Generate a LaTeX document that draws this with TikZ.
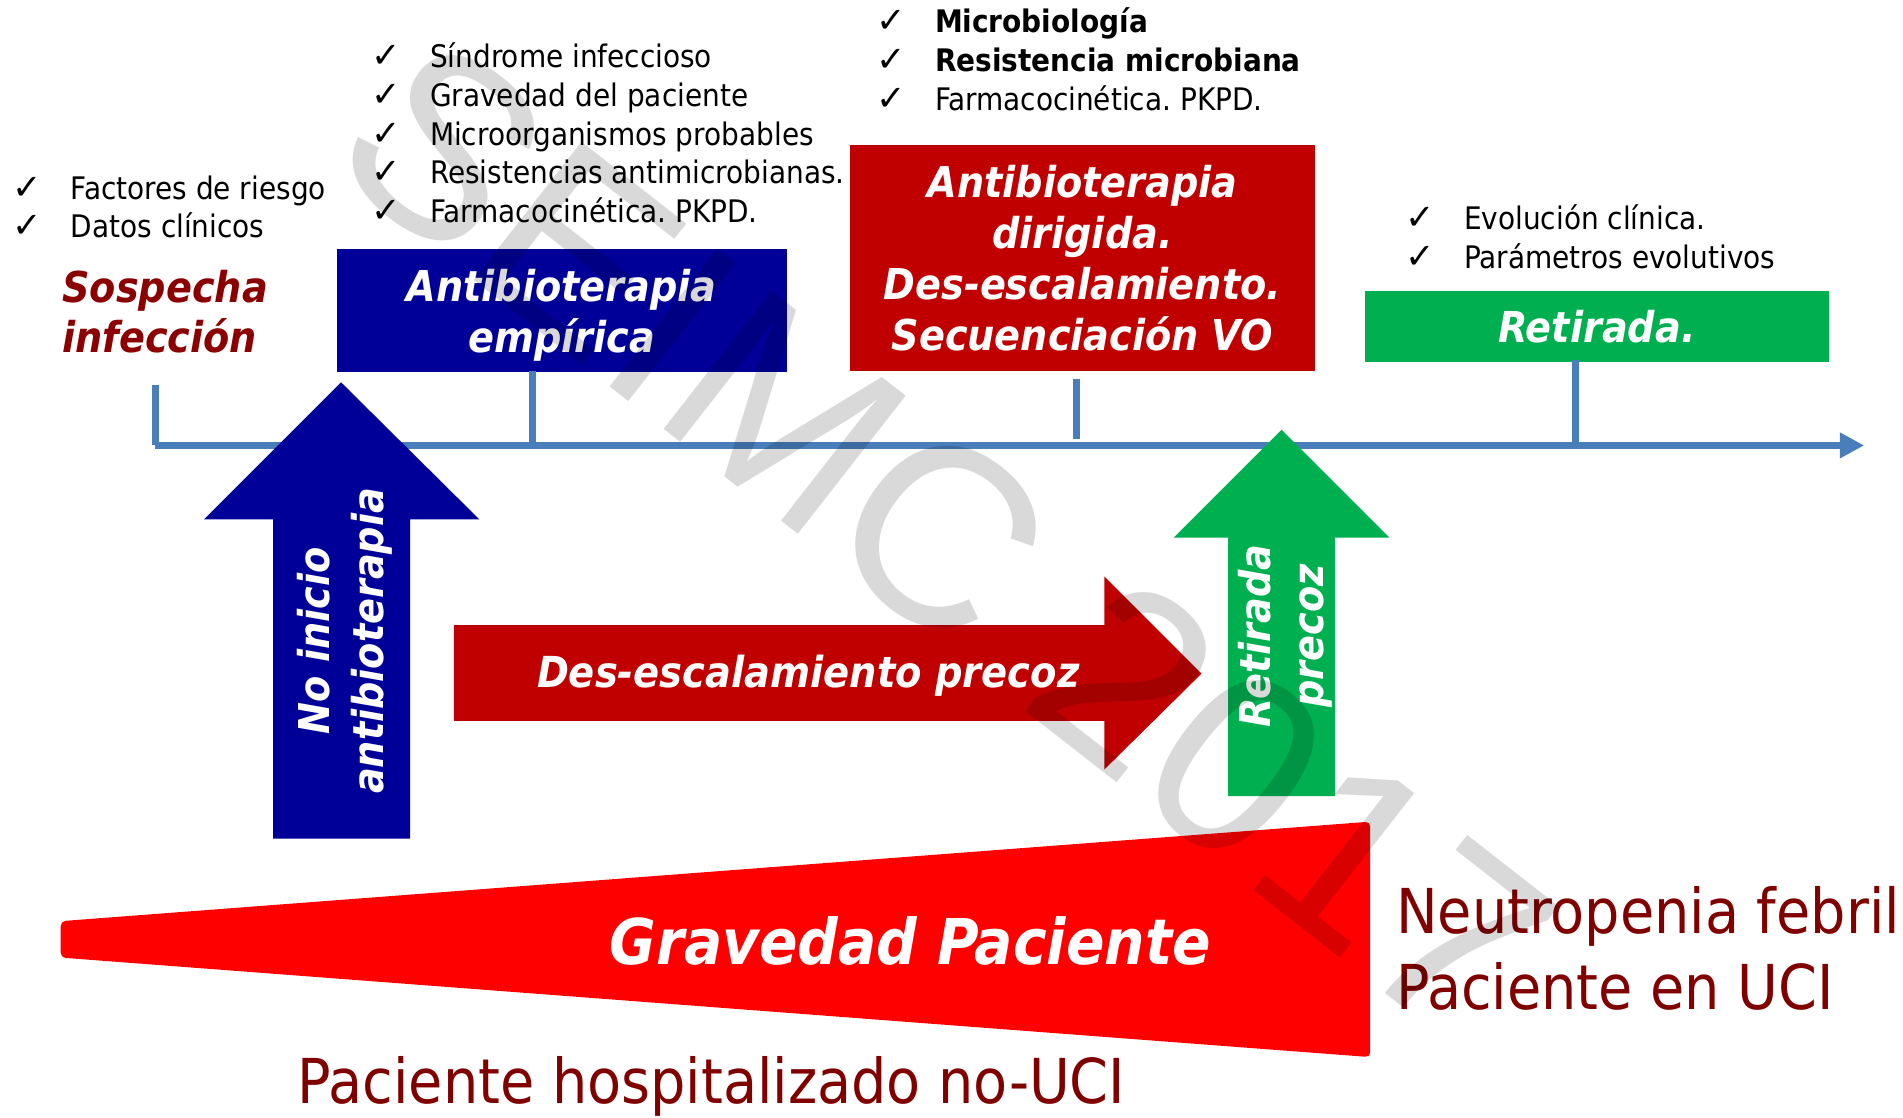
\documentclass[tikz,border=0pt]{standalone}
\usepackage{fontspec}
\setmainfont{DejaVu Sans Condensed}
\newfontfamily\symf{DejaVu Sans}
\newfontfamily\wmf{Liberation Sans}
\usetikzlibrary{arrows.meta}
\definecolor{axisblue}{HTML}{4A7EBB}
\definecolor{dkblue}{HTML}{000099}
\definecolor{boxred}{HTML}{C00000}
\definecolor{boxgreen}{HTML}{00B050}
\definecolor{maroonc}{HTML}{800000}
\definecolor{sospc}{HTML}{8B0000}
\definecolor{trapred}{HTML}{FF0000}
\newcommand{\ck}{\makebox[24pt][l]{\symf\fontsize{14.5pt}{15pt}\selectfont ✓}}
\frenchspacing
\begin{document}
\begin{tikzpicture}[x=0.5pt,y=-0.5pt,
  item/.style={anchor=base west, inner sep=0pt, font=\fontsize{12.8pt}{15pt}\selectfont},
  ttl/.style={text=white, align=center, inner sep=0pt, font=\fontsize{17.5pt}{21pt}\selectfont\bfseries\itshape},
  boxn/.style={anchor=north west, inner sep=0pt},
  axisline/.style={draw=axisblue, line width=2.8pt},
  big/.style={text=maroonc, inner sep=0pt, font=\fontsize{25.5pt}{31pt}\selectfont},
  wm/.style={text=black, text opacity=0.15, inner sep=0pt, font=\fontsize{105pt}{105pt}\selectfont\wmf}
]
\useasboundingbox (0,0) rectangle (1568,921);

% axis
\coordinate (a0) at (128,317);
\coordinate (a1) at (128,367);
\coordinate (aend) at (1536,367);
\draw[axisline] (a0) -- (a1);
\draw[axisline, -{Triangle[length=10pt,width=10pt]}] (a1) -- (aend);

% boxes
\node[boxn, fill=dkblue, minimum width=185.5pt, minimum height=50.5pt] (emp) at (277,205) {};
\node[ttl] (empt) at ([yshift=-2pt]emp.center) {Antibioterapia\\empírica};
\node[boxn, fill=boxred, minimum width=191.5pt, minimum height=93pt, ttl] (dir) at (700,119) {Antibioterapia\\dirigida.\\Des-escalamiento.\\Secuenciación VO};
\node[boxn, fill=boxgreen, minimum width=191.5pt, minimum height=29.5pt, ttl] (ret) at (1124,239) {Retirada.};

% ticks
\coordinate (t1a) at (439,306); \coordinate (t1b) at (439,367);
\coordinate (t2a) at (887,312); \coordinate (t2b) at (887,362);
\coordinate (t3a) at (1298,297); \coordinate (t3b) at (1298,367);
\draw[axisline] (t1a) -- (t1b);
\draw[axisline] (t2a) -- (t2b);
\draw[axisline] (t3a) -- (t3b);

% Sospecha
\node[anchor=west, align=left, inner sep=0pt, text=sospc, font=\fontsize{17.5pt}{20.5pt}\selectfont\bfseries\itshape] (sosp) at (51,257) {Sospecha\\infección};

% check lists
\node[item] (l1) at (10,164) {\ck Factores de riesgo};
\node[item] (l2) at (10,196) {\ck Datos clínicos};

\node[item] (e1) at (306,56) {\ck Síndrome infeccioso};
\node[item] (e2) at (306,88) {\ck Gravedad del paciente};
\node[item] (e3) at (306,120) {\ck Microorganismos probables};
\node[item] (e4) at (306,151) {\ck Resistencias antimicrobianas.};
\node[item] (e5) at (306,183) {\ck Farmacocinética. PKPD.};

\node[item] (d1) at (722,27) {\ck \textbf{Microbiología}};
\node[item] (d2) at (722,59) {\ck \textbf{Resistencia microbiana}};
\node[item] (d3) at (722,91) {\ck Farmacocinética. PKPD.};

\node[item] (r1) at (1158,189) {\ck Evolución clínica.};
\node[item] (r2) at (1158,221) {\ck Parámetros evolutivos};

% severity wedge
\fill[trapred, rounded corners=2pt] (50,759) -- (1129,677) -- (1129,871) -- (50,789) -- cycle;
\node[anchor=base, text=white, inner sep=0pt, font=\fontsize{26pt}{30pt}\selectfont\bfseries\itshape] (grav) at (750,795) {Gravedad Paciente};

% blue up arrow
\fill[dkblue] (225,691) -- (225,428) -- (168,428) -- (281,315) -- (395,428) -- (338,428) -- (338,691) -- cycle;
\node[ttl, rotate=90, font=\fontsize{17.5pt}{22pt}\selectfont\bfseries\itshape] (noini) at (284,528) {No inicio\\antibioterapia};

% red right arrow
\fill[boxred] (374,515) -- (910,515) -- (910,475) -- (990,555) -- (910,634) -- (910,594) -- (374,594) -- cycle;
\node[ttl, font=\fontsize{17.6pt}{22pt}\selectfont\bfseries\itshape] (desc) at (666,557) {Des-escalamiento precoz};

% green up arrow
\fill[boxgreen] (1012,656) -- (1012,443) -- (967,443) -- (1056,354) -- (1145,443) -- (1100,443) -- (1100,656) -- cycle;
\node[ttl, rotate=90, font=\fontsize{17.5pt}{22pt}\selectfont\bfseries\itshape] (retp) at (1059,524) {Retirada\\precoz};

% big labels
\node[big, anchor=base west] (neu) at (1150,769) {Neutropenia febril};
\node[big, anchor=base west] (uci) at (1150,832) {Paciente en UCI};
\node[big, anchor=base west] (hosp) at (245,909) {Paciente hospitalizado no-UCI};

% watermark
\node[wm, rotate=-38] (wmk) at (780,444) {SEIMC 2017};
\end{tikzpicture}
\end{document}
